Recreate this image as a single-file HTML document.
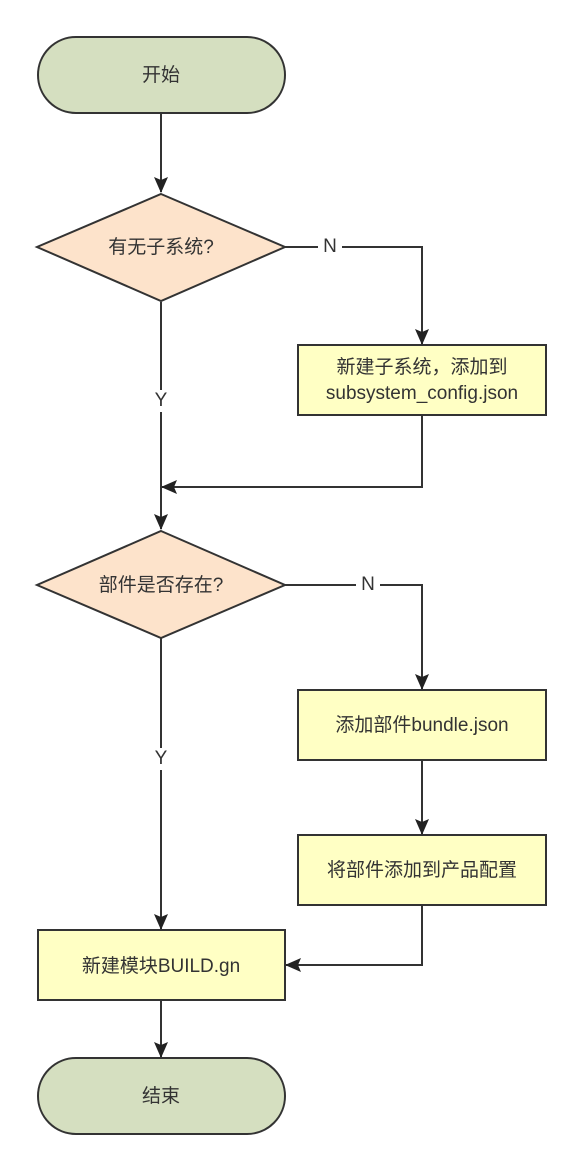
<!DOCTYPE html>
<html><head><meta charset="utf-8"><style>
html,body{margin:0;padding:0;background:#fff;}
svg{display:block;}
text{font-family:"Liberation Sans","Noto Sans CJK SC",sans-serif;font-size:19px;fill:#333;text-anchor:middle;dominant-baseline:middle;}
</style></head><body>
<svg width="583" height="1171" viewBox="0 0 583 1171">
<defs>
<marker id="b" viewBox="0 0 16 16" markerWidth="16" markerHeight="16" refX="15" refY="8" orient="auto" markerUnits="userSpaceOnUse"><path d="M0,1 L16,8 L0,15 L3,8 z" fill="#222"/></marker></defs>
<g stroke="#333" stroke-width="2" fill="none">
<path d="M161,113 V192" marker-end="url(#b)"/>
<path d="M285,247 H422 V344" marker-end="url(#b)"/>
<path d="M422,415 V487 H162" marker-end="url(#b)"/>
<path d="M161,302 V529" marker-end="url(#b)"/>
<path d="M285,585 H422 V689" marker-end="url(#b)"/>
<path d="M422,760 V834" marker-end="url(#b)"/>
<path d="M422,905 V965 H286" marker-end="url(#b)"/>
<path d="M161,638 V929" marker-end="url(#b)"/>
<path d="M161,1000 V1057" marker-end="url(#b)"/>
</g>
<g stroke="#333" stroke-width="2">
<rect x="38" y="37" width="247" height="76" rx="38" fill="#d5dfc0"/>
<polygon points="161,194 285,247 161,301 37,247" fill="#fde3cb"/>
<rect x="298" y="345" width="248" height="70" fill="#ffffc4"/>
<polygon points="161,531 285,585 161,638 37,585" fill="#fde3cb"/>
<rect x="298" y="690" width="248" height="70" fill="#ffffc4"/>
<rect x="298" y="835" width="248" height="70" fill="#ffffc4"/>
<rect x="38" y="930" width="247" height="70" fill="#ffffc4"/>
<rect x="38" y="1058" width="247" height="76" rx="38" fill="#d5dfc0"/>
</g>
<rect x="318" y="237" width="24" height="20" fill="#fff"/><text x="330" y="247">N</text>
<rect x="356" y="575" width="24" height="20" fill="#fff"/><text x="368" y="585">N</text>
<rect x="150" y="390" width="22" height="22" fill="#fff"/><text x="161" y="401">Y</text>
<rect x="150" y="748" width="22" height="22" fill="#fff"/><text x="161" y="759">Y</text>
<text x="161" y="76">开始</text>
<text x="161" y="248">有无子系统?</text>
<text x="422" y="368">新建子系统，添加到</text>
<text x="422" y="394">subsystem_config.json</text>
<text x="161" y="586">部件是否存在?</text>
<text x="422" y="726">添加部件bundle.json</text>
<text x="422" y="871">将部件添加到产品配置</text>
<text x="161" y="967">新建模块BUILD.gn</text>
<text x="161" y="1097">结束</text>
</svg>
</body></html>
